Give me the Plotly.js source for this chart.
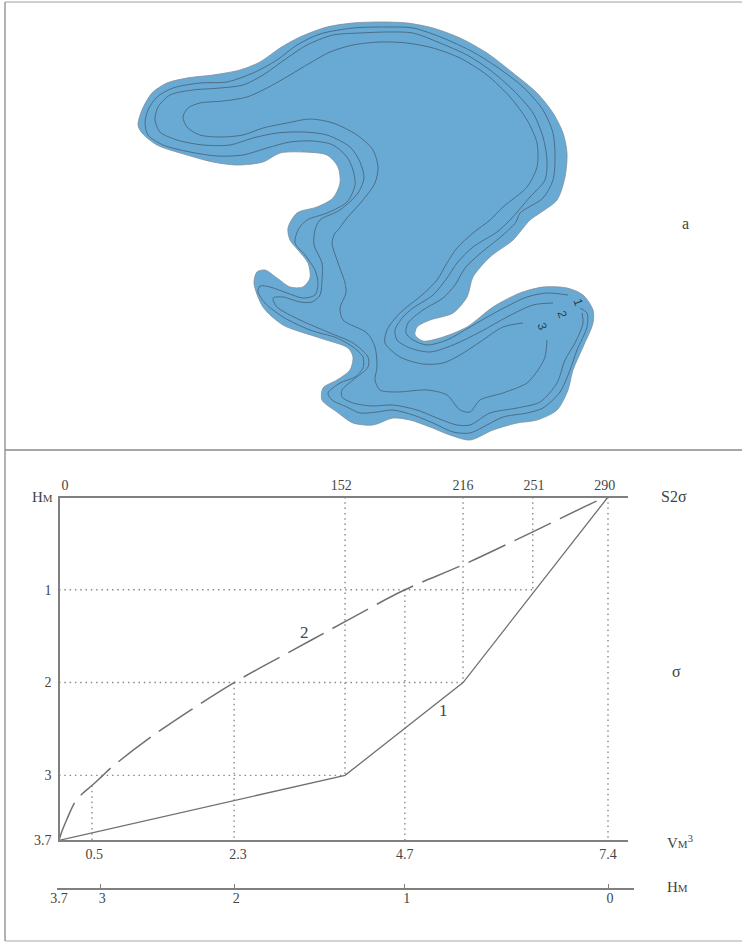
<!DOCTYPE html>
<html><head><meta charset="utf-8">
<script src="https://cdn.plot.ly/plotly-3.0.1.min.js"></script>
<style>html,body{margin:0;padding:0;background:#fff}#g{width:742px;height:943px}</style>
</head><body><div id="g"></div>
<script>
// Map outline and isolines (map units)
const shoreX=[138,142,152,167,187,213,240,260,280,300,327,353,380,407,433,460,487,513,537,553,563,567,565,557,540,530,513,490,473,467,453,430,417,415,423,440,467,493,520,543,567,583,593,593,583,573,568,557,537,517,493,470,450,430,410,393,373,353,337,322,323,337,350,353,348,320,283,263,254,257,265,277,290,303,310,308,298,290,288,297,317,333,340,338,327,303,280,263,237,213,187,157,142,138];
const shoreY=[125,110,93,83,78,75,70,62,48,37,27,23,22,23,28,38,53,73,93,113,133,153,177,200,213,220,240,257,277,297,313,320,327,335,341,338,327,307,293,287,288,295,310,323,347,370,390,410,420,423,430,440,435,427,420,418,425,423,412,400,388,380,370,357,348,338,325,307,283,272,270,278,287,287,278,263,250,240,228,213,207,198,183,167,155,152,153,162,165,162,155,145,133,125];
const iso1X=[568,547,527,500,470,447,427,413,406,408,423,443,455,465,482,503,516,520,543,553,555,553,543,523,497,473,443,413,387,353,320,297,277,253,227,200,173,157,148,145,148,163,190,217,243,267,290,313,333,347,353,355,347,327,307,298,295,305,315,318,315,303,287,270,260,258,265,283,310,337,353,363,363,355,340,328,332,347,360,377,393,413,433,453,470,487,503,527,543,560,570,577,587,587,580];
const iso1Y=[295,293,297,310,327,340,345,340,333,323,310,298,285,268,252,235,222,213,198,180,157,133,110,87,67,52,38,28,27,28,34,45,60,73,82,83,88,97,110,123,135,145,152,156,155,148,142,141,145,157,170,185,202,213,220,230,243,255,270,283,295,298,293,287,286,292,303,317,330,338,347,357,368,377,383,393,400,407,413,412,410,415,423,432,433,425,417,413,408,392,370,350,327,313,308];
const iso2X=[553,533,507,480,453,430,410,397,395,403,413,433,447,457,473,497,510,530,545,547,543,533,513,490,467,440,413,387,360,333,307,287,263,243,220,193,170,158,155,160,177,203,230,253,277,303,327,350,360,364,358,340,320,315,314,322,322,320,312,300,283,273,277,300,330,353,368,368,353,342,342,353,372,393,417,437,457,470,490,517,540,557,565,575,583,582];
const iso2Y=[303,305,317,332,345,352,348,340,330,317,308,295,278,263,247,232,220,197,180,160,137,113,90,70,55,43,33,32,33,35,45,58,75,85,88,90,95,107,120,132,140,145,145,138,133,132,135,147,162,178,193,210,220,230,245,263,280,295,302,302,297,298,307,320,333,343,357,367,380,390,397,403,406,405,410,418,425,425,413,408,402,383,360,343,323,313];
const iso3X=[523,503,480,460,443,423,400,385,387,400,422,437,447,457,473,490,503,527,537,537,527,510,487,460,433,407,380,353,330,310,290,267,247,223,200,188,183,187,200,220,243,263,287,310,333,357,373,378,375,363,347,338,335,332,337,345,346,340,343,367,375,377,375,380,397,427,447,460,470,480,503,527,538,545,547];
const iso3Y=[323,327,342,355,363,364,357,343,330,313,295,280,263,248,233,220,207,187,167,143,120,97,75,58,48,43,42,45,52,63,75,88,97,101,103,108,117,127,135,137,135,128,123,119,123,135,150,167,183,200,218,230,233,243,260,283,293,308,320,333,347,367,380,390,392,390,395,410,412,400,393,383,370,357,340];

// Hydrographic curves: horizontal scale is a fraction of the full width (0 to 1), depth H in metres
const curve1Pos=[0,0.521,0.736,1];
const curve1H=[3.7,3,2,0];
const curve2Pos=[0,0.0055,0.0146,0.029,0.042,0.060,0.080,0.0965,0.162,0.239,0.319,0.421,0.521,0.630,0.736,0.863,0.985,1];
const curve2H=[3.7,3.6,3.47,3.29,3.2,3.11,3.0,2.91,2.61,2.3,2.0,1.667,1.344,1.0,0.731,0.376,0.03,0];

// Reference lines
const vDropPos=[0.060,0.319,0.630,0.521,0.736,0.863,1];
const vDropFrom=[3.11,2,1,0,0,0,0];
const vDropTo=[3.7,3.7,3.7,3,2,1,3.7];
const hDropH=[1,2,3];
const hDropEnd=[0.863,0.736,0.521];

// Axis labels
const areaLabels=['0','152','216','251','290'];
const areaLabelPos=[0.011,0.514,0.736,0.865,0.994];
const volLabels=['0.5','2.3','4.7','7.4'];
const volLabelPos=[0.064,0.326,0.630,1];
const depthLabels=['1','2','3','3.7'];
const depthTicks=[1,2,3,3.7];
const lowerLabels=['3.7','3','2','1','0'];
const lowerPos=[-0.0036,0.075,0.319,0.630,1];

const W=742,H=943;
const X=p=>p/W, Y=p=>1-p/H;
const serif='"Liberation Serif", serif';
const ink='#444444', rule='#808080';
const traces=[];
traces.push({x:shoreX,y:shoreY,xaxis:'x',yaxis:'y',mode:'lines',fill:'toself',fillcolor:'#69aad4',
  line:{color:'#7d8f9c',width:0.8,shape:'spline',smoothing:0.8}});
[[iso1X,iso1Y],[iso2X,iso2Y],[iso3X,iso3Y]].forEach(([a,b])=>traces.push({x:a,y:b,xaxis:'x',yaxis:'y',mode:'lines',
  line:{color:'#47677f',width:0.9,shape:'spline',smoothing:0.8}}));
vDropPos.forEach((p,i)=>traces.push({x:[p,p],y:[vDropFrom[i],vDropTo[i]],xaxis:'x2',yaxis:'y2',mode:'lines',
  line:{color:'#8a8a8a',width:1.4,dash:'1.5px,3.8px'}}));
hDropH.forEach((h,i)=>traces.push({x:[0,hDropEnd[i]],y:[h,h],xaxis:'x2',yaxis:'y2',mode:'lines',
  line:{color:'#8a8a8a',width:1.4,dash:'1.5px,3.8px'}}));
traces.push({x:curve1Pos,y:curve1H,xaxis:'x2',yaxis:'y2',mode:'lines',line:{color:'#707070',width:1.3}});
traces.push({x:curve2Pos,y:curve2H,xaxis:'x3',yaxis:'y2',mode:'lines',line:{color:'#707070',width:1.5,dash:'40.5px,10px',shape:'spline',smoothing:1}});
traces.push({x:lowerPos,y:lowerPos.map(()=>3.7),xaxis:'x4',yaxis:'y2',mode:'none'});

const tickFont={family:serif,size:14,color:ink};
const xr=[0.8/549,569/549];
const layout={width:W,height:H,margin:{l:0,r:0,t:0,b:0},paper_bgcolor:'#fff',plot_bgcolor:'rgba(0,0,0,0)',showlegend:false,hovermode:false,
  xaxis:{domain:[0,1],range:[0,742],visible:false,fixedrange:true},
  yaxis:{domain:[493/943,1],range:[450,0],visible:false,fixedrange:true},
  xaxis2:{domain:[X(59.8),X(628)],range:xr,anchor:'y2',side:'top',showgrid:false,zeroline:false,showline:true,linecolor:rule,linewidth:1.5,ticks:'',
    tickmode:'array',tickvals:areaLabelPos,ticktext:areaLabels,tickfont:tickFont,ticklabelstandoff:1,fixedrange:true},
  xaxis3:{overlaying:'x2',range:xr,anchor:'y2',side:'bottom',showgrid:false,zeroline:false,showline:true,linecolor:rule,linewidth:1.5,ticks:'',
    tickmode:'array',tickvals:volLabelPos,ticktext:volLabels,tickfont:tickFont,ticklabelstandoff:0,fixedrange:true},
  xaxis4:{domain:[X(57),X(634)],range:[-2/549,575/549],anchor:'free',position:Y(888),side:'bottom',showgrid:false,zeroline:false,showline:true,linecolor:rule,linewidth:1.5,
    ticks:'inside',ticklen:4,tickcolor:rule,tickwidth:1,
    tickmode:'array',tickvals:lowerPos,ticktext:lowerLabels,tickfont:tickFont,ticklabelstandoff:-3,ticklabelshift:2,fixedrange:true},
  yaxis2:{domain:[Y(840.3),Y(497.8)],range:[3.7,0.8/93],anchor:'x2',side:'left',showgrid:false,zeroline:false,showline:true,linecolor:rule,linewidth:1.5,ticks:'',
    tickmode:'array',tickvals:depthTicks,ticktext:depthLabels,tickfont:tickFont,ticklabelstandoff:4,fixedrange:true},
  shapes:[
    {type:'line',xref:'paper',yref:'paper',x0:X(5),x1:X(5),y0:Y(2),y1:Y(941),line:{color:'#9a9a9a',width:1.5}},
    {type:'line',xref:'paper',yref:'paper',x0:X(5),x1:1,y0:Y(2),y1:Y(2),line:{color:'#a0a0a0',width:1.2}},
    {type:'line',xref:'paper',yref:'paper',x0:X(5),x1:1,y0:Y(450),y1:Y(450),line:{color:'#8a8a8a',width:1.6}},
    {type:'line',xref:'paper',yref:'paper',x0:X(5),x1:1,y0:Y(941),y1:Y(941),line:{color:'#a8a8a8',width:1.2}}
  ],
  annotations:[
    ['a',685,223,16],['σ',676,671,16],['S2σ',674,497,16],
    ['H<span style="font-size:11px">М</span>',42,497,15],
    ['V<span style="font-size:11px">М</span><sup>3</sup>',680,842,15],
    ['H<span style="font-size:11px">М</span>',677,887,15],
    ['2',304,632,17],['1',443,710,17]
  ].map(([t,x,y,s])=>({text:t,xref:'paper',yref:'paper',x:X(x),y:Y(y),showarrow:false,xanchor:'center',yanchor:'middle',
     font:{family:serif,size:s,color:ink}})).concat(
    [['1',578,302],['2',562,314],['3',542,326]].map(([t,x,y])=>({text:t,xref:'x',yref:'y',x:x,y:y,showarrow:false,textangle:70,
     font:{family:'"Liberation Sans", sans-serif',size:12,color:'#2f3f4c'}})))
};
Plotly.newPlot('g',traces,layout,{staticPlot:true,displayModeBar:false});
</script></body></html>
